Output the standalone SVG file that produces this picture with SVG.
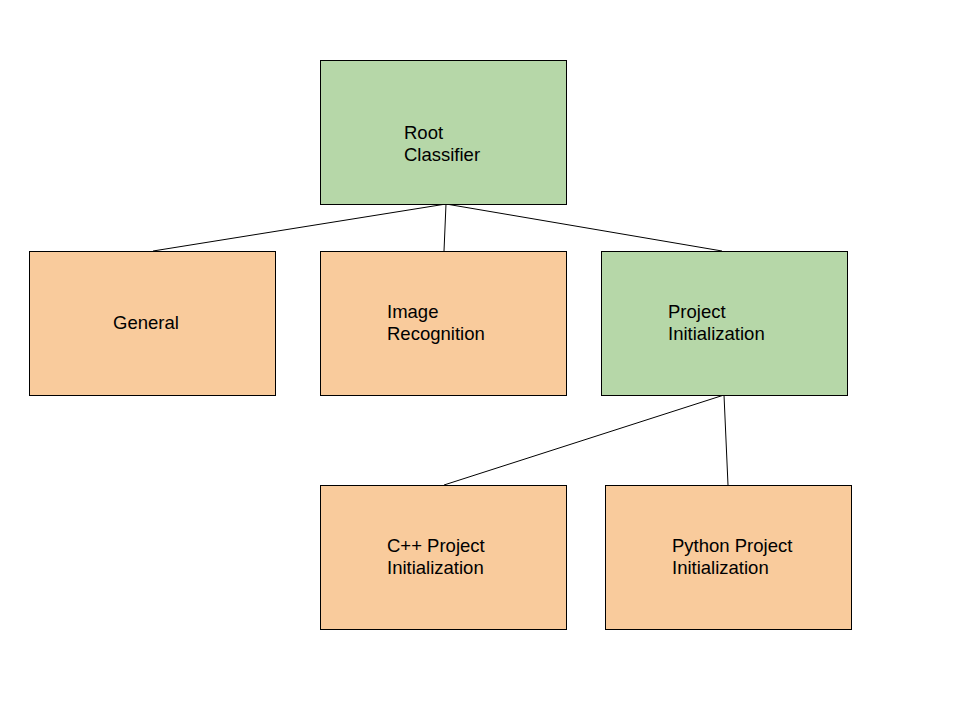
<svg xmlns="http://www.w3.org/2000/svg" width="960" height="720" viewBox="0 0 960 720">
<style>
.box{stroke:#000;stroke-width:1}
.g{fill:#b6d7a8}
.o{fill:#f9cb9c}
.t{font-family:"Liberation Sans",Arial,sans-serif;font-size:18.5px;fill:#000}
.c{stroke:#000;stroke-width:1;fill:none}
</style>
<rect width="960" height="720" fill="#fff"/>
<g id="connectors">
<line class="c" x1="446" y1="204" x2="153" y2="251"/>
<line class="c" x1="446" y1="204" x2="444" y2="251"/>
<line class="c" x1="446" y1="204" x2="722" y2="251"/>
<line class="c" x1="724" y1="395" x2="444" y2="485"/>
<line class="c" x1="724" y1="395" x2="728" y2="485"/>
</g>
<g id="root">
<rect class="box g" x="320.5" y="60.5" width="246" height="144"/>
<text class="t" x="404" y="139">Root</text>
<text class="t" x="404" y="161">Classifier</text>
</g>
<g id="general">
<rect class="box o" x="29.5" y="251.5" width="246" height="144"/>
<text class="t" x="113" y="329">General</text>
</g>
<g id="image-recognition">
<rect class="box o" x="320.5" y="251.5" width="246" height="144"/>
<text class="t" x="387" y="318">Image</text>
<text class="t" x="387" y="340">Recognition</text>
</g>
<g id="project-initialization">
<rect class="box g" x="601.5" y="251.5" width="246" height="144"/>
<text class="t" x="668" y="318">Project</text>
<text class="t" x="668" y="340">Initialization</text>
</g>
<g id="cpp-project">
<rect class="box o" x="320.5" y="485.5" width="246" height="144"/>
<text class="t" x="387" y="552">C++ Project</text>
<text class="t" x="387" y="574">Initialization</text>
</g>
<g id="python-project">
<rect class="box o" x="605.5" y="485.5" width="246" height="144"/>
<text class="t" x="672" y="552">Python Project</text>
<text class="t" x="672" y="574">Initialization</text>
</g>
</svg>
